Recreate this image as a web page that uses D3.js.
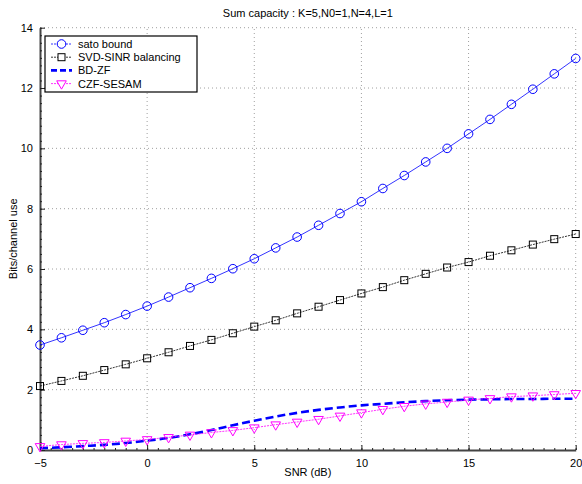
<!DOCTYPE html>
<html>
<head>
<meta charset="utf-8" />
<title>Sum capacity</title>
<script src="https://d3js.org/d3.v7.min.js"></script>
<style>
body { margin: 0; background: #fff; }
svg { font-family: "Liberation Sans", Arial, sans-serif; }
text { fill: #000; font-size: 11px; }
.grid line { stroke: #888; stroke-dasharray: 1,3; stroke-width: 0.8; }
</style>
</head>
<body>
<div id="chart"></div>
<script>
// SNR in dB
var snr = d3.range(-5, 21);
// sum capacity (bits/channel use)
var satoBound = [3.48, 3.72, 3.97, 4.22, 4.49, 4.77, 5.07, 5.38, 5.69, 6.01, 6.34, 6.70, 7.06, 7.45, 7.84, 8.23, 8.67, 9.10, 9.55, 10.00, 10.48, 10.96, 11.46, 11.96, 12.47, 12.98];
var svdSinr = [2.12, 2.29, 2.46, 2.65, 2.84, 3.04, 3.24, 3.45, 3.65, 3.87, 4.09, 4.30, 4.53, 4.75, 4.97, 5.19, 5.40, 5.63, 5.84, 6.05, 6.23, 6.44, 6.62, 6.81, 6.99, 7.16];
var bdZf = [0.06, 0.09, 0.13, 0.17, 0.23, 0.31, 0.40, 0.52, 0.66, 0.82, 0.97, 1.11, 1.23, 1.33, 1.41, 1.48, 1.53, 1.58, 1.62, 1.65, 1.67, 1.68, 1.69, 1.69, 1.70, 1.70];
var czfSesam = [0.12, 0.18, 0.22, 0.25, 0.30, 0.35, 0.42, 0.50, 0.58, 0.65, 0.74, 0.84, 0.93, 1.02, 1.13, 1.24, 1.35, 1.45, 1.53, 1.59, 1.66, 1.71, 1.77, 1.80, 1.84, 1.88];

var xTicks = [-5, 0, 5, 10, 15, 20];
var yTicks = [0, 2, 4, 6, 8, 10, 12, 14];
var legendNames = ["sato bound", "SVD-SINR balancing", "BD-ZF", "CZF-SESAM"];

var width = 582, height = 484;
var margin = {top: 27.7, right: 6.3, bottom: 34, left: 40};
var iw = width - margin.left - margin.right;
var ih = height - margin.top - margin.bottom;

var svg = d3.select("#chart").append("svg")
    .attr("width", width).attr("height", height);

var x = d3.scaleLinear().domain([-5, 20]).range([margin.left, margin.left + iw]);
var y = d3.scaleLinear().domain([0, 14]).range([margin.top + ih, margin.top]);

/* dotted grid */
var grid = svg.append("g").attr("class", "grid");
grid.selectAll(".gx").data(xTicks.slice(1)).enter().append("line")
    .attr("x1", d => x(d)).attr("x2", d => x(d))
    .attr("y1", y(0)).attr("y2", y(14));
grid.selectAll(".gy").data(yTicks.slice(1)).enter().append("line")
    .attr("x1", x(-5)).attr("x2", x(20))
    .attr("y1", d => y(d)).attr("y2", d => y(d));

/* axes, ticks pointing inward like matlab */
svg.append("g").attr("transform", "translate(0," + y(0) + ")")
    .call(d3.axisBottom(x).tickValues(xTicks).tickSizeInner(-5).tickSizeOuter(0).tickPadding(9));
svg.append("g").attr("transform", "translate(" + x(-5) + ",0)")
    .call(d3.axisLeft(y).tickValues(yTicks).tickSizeInner(-5).tickSizeOuter(0).tickPadding(7));
// minor ticks
svg.append("g").attr("transform", "translate(0," + y(0) + ")")
    .call(d3.axisBottom(x).tickValues(d3.range(-5, 20.01, 0.5)).tickSize(-2).tickFormat(""))
    .call(g => g.select(".domain").remove());
svg.append("g").attr("transform", "translate(" + x(-5) + ",0)")
    .call(d3.axisLeft(y).tickValues(d3.range(0, 14.01, 0.25)).tickSize(-2).tickFormat(""))
    .call(g => g.select(".domain").remove());
svg.selectAll(".domain").attr("stroke", "#444").attr("stroke-width", 2);
svg.selectAll(".tick line").attr("stroke", "#222");
svg.selectAll(".tick text").attr("font-size", 11).attr("fill", "#000")
    .attr("font-family", "Liberation Sans, Arial, sans-serif");

/* labels */
svg.append("text").attr("x", x(7.5)).attr("y", 17).attr("text-anchor", "middle")
    .text("Sum capacity : K=5,N0=1,N=4,L=1");
svg.append("text").attr("x", x(7.5)).attr("y", 476).attr("text-anchor", "middle")
    .text("SNR (dB)");
svg.append("text").attr("transform", "translate(17," + y(7) + ") rotate(-90)")
    .attr("text-anchor", "middle").text("Bits/channel use");

/* series */
var line = d3.line().x((d, i) => x(snr[i])).y(d => y(d));
var smooth = d3.line().x((d, i) => x(snr[i])).y(d => y(d)).curve(d3.curveMonotoneX);

svg.append("path").datum(bdZf).attr("d", smooth)
    .attr("fill", "none").attr("stroke", "#0000ff").attr("stroke-width", 2.6)
    .attr("stroke-dasharray", "8,4");

svg.append("path").datum(czfSesam).attr("d", line)
    .attr("fill", "none").attr("stroke", "#ff00ff").attr("stroke-width", 0.8)
    .attr("stroke-dasharray", "2,1");
var tri = d3.symbol().type(d3.symbolTriangle).size(40);
svg.append("g").selectAll("path").data(czfSesam).enter().append("path")
    .attr("d", tri)
    .attr("transform", (d, i) => "translate(" + x(snr[i]) + "," + y(d) + ") rotate(180)")
    .attr("fill", "none").attr("stroke", "#ff00ff").attr("stroke-width", 1);

svg.append("path").datum(svdSinr).attr("d", line)
    .attr("fill", "none").attr("stroke", "#000").attr("stroke-width", 0.8)
    .attr("stroke-dasharray", "2,1");
svg.append("g").selectAll("rect").data(svdSinr).enter().append("rect")
    .attr("x", (d, i) => x(snr[i]) - 3.5).attr("y", d => y(d) - 3.5)
    .attr("width", 7).attr("height", 7)
    .attr("fill", "none").attr("stroke", "#000").attr("stroke-width", 1);

svg.append("path").datum(satoBound).attr("d", line)
    .attr("fill", "none").attr("stroke", "#0000ff").attr("stroke-width", 0.8);
svg.append("g").selectAll("circle").data(satoBound).enter().append("circle")
    .attr("cx", (d, i) => x(snr[i])).attr("cy", d => y(d)).attr("r", 4.3)
    .attr("fill", "none").attr("stroke", "#0000ff").attr("stroke-width", 1);

/* legend */
var lg = svg.append("g").attr("transform", "translate(45,36)");
lg.append("rect").attr("width", 152).attr("height", 56)
    .attr("fill", "#fff").attr("stroke", "#000").attr("stroke-width", 1.2);
var styles = [
    {color: "#0000ff", w: 0.8, dash: "2,1", marker: "circle"},
    {color: "#000", w: 0.8, dash: "2,1", marker: "square"},
    {color: "#0000ff", w: 2.6, dash: "6,3", marker: null},
    {color: "#ff00ff", w: 0.8, dash: "2,1", marker: "tri"}
];
legendNames.forEach(function(name, i) {
    var cy = 8 + i * 13.2;
    var s = styles[i];
    lg.append("line").attr("x1", 6).attr("x2", 27).attr("y1", cy).attr("y2", cy)
        .attr("stroke", s.color).attr("stroke-width", s.w).attr("stroke-dasharray", s.dash);
    if (s.marker == "circle") {
        lg.append("circle").attr("cx", 16.5).attr("cy", cy).attr("r", 4.3)
            .attr("fill", "#fff").attr("stroke", s.color);
    } else if (s.marker == "square") {
        lg.append("rect").attr("x", 13).attr("y", cy - 3.5).attr("width", 7).attr("height", 7)
            .attr("fill", "#fff").attr("stroke", s.color);
    } else if (s.marker == "tri") {
        lg.append("path").attr("d", tri)
            .attr("transform", "translate(16.5," + cy + ") rotate(180)")
            .attr("fill", "#fff").attr("stroke", s.color);
    }
    lg.append("text").attr("x", 33).attr("y", cy + 4).text(name);
});
</script>
</body>
</html>
